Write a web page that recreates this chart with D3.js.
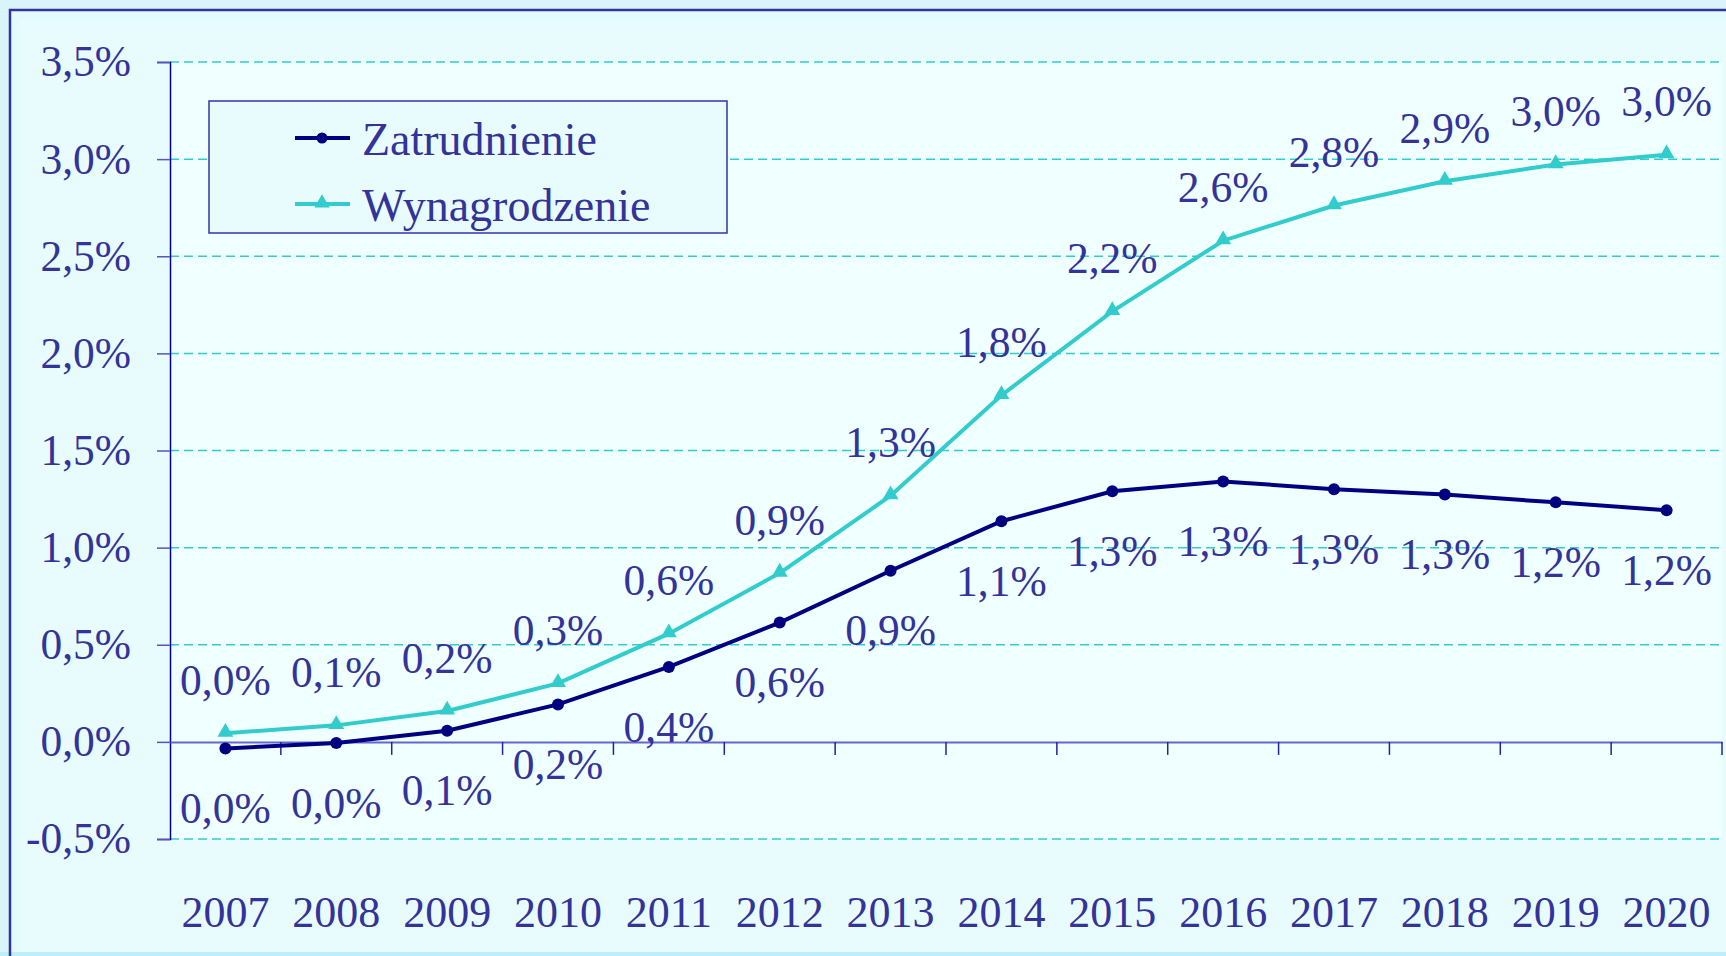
<!DOCTYPE html>
<html><head><meta charset="utf-8">
<script src="https://cdn.jsdelivr.net/npm/d3@7"></script>
<style>
html,body{margin:0;padding:0;background:#d9f4fa;}
svg{display:block;}
text{font-family:"Liberation Serif","Times New Roman",serif;fill:#333399;}
</style></head>
<body>
<svg id="chart" width="1726" height="956"></svg>
<script>
const years = ["2007","2008","2009","2010","2011","2012","2013","2014","2015","2016","2017","2018","2019","2020"];
const zatrudnienie = [-0.034,-0.006,0.057,0.193,0.386,0.614,0.881,1.136,1.290,1.341,1.301,1.273,1.233,1.193];
const wynagrodzenie = [0.045,0.085,0.159,0.301,0.557,0.869,1.267,1.784,2.216,2.580,2.761,2.886,2.972,3.023];
const yTicks = [-0.5,0,0.5,1.0,1.5,2.0,2.5,3.0,3.5];
const seriesNames = ["Zatrudnienie","Wynagrodzenie"];

(function(){
const svg = d3.select("#chart");
const W = 1726, H = 956;
const pLeft = 170, pRight = 1722, pTop = 62, pBottom = 839;

const fmt = v => d3.format(".1f")(Math.abs(v) < 0.05 ? 0 : v).replace("\u2212","-").replace(".", ",") + "%";

// frame
svg.append("rect").attr("x",10).attr("y",10).attr("width",W).attr("height",942).attr("fill","#e4fbfd");
svg.append("rect").attr("x",0).attr("y",952).attr("width",W).attr("height",4).attr("fill","#bfeef9");
svg.append("rect").attr("x",20).attr("y",20).attr("width",W).attr("height",932).attr("fill","#e8fcfd");
svg.append("path").attr("d","M10,956 V10 H1726").attr("fill","none").attr("stroke","#333399").attr("stroke-width",2.5);

const x = d3.scaleBand().domain(years).range([pLeft,pRight]);
const y = d3.scaleLinear().domain([-0.5,3.5]).range([pBottom,pTop]);

// plot area
svg.append("rect").attr("x",pLeft).attr("y",pTop).attr("width",pRight-pLeft).attr("height",pBottom-pTop).attr("fill","#f0ffff");

// gridlines
svg.append("g").selectAll("line").data(yTicks.filter(d=>d!==0)).join("line")
  .attr("x1",pLeft).attr("x2",pRight).attr("y1",d=>y(d)).attr("y2",d=>y(d))
  .attr("stroke","#33cccc").attr("stroke-width",1.5).attr("stroke-dasharray","9,5");

// y axis
const yAxis = d3.axisLeft(y).tickValues(yTicks).tickSize(13).tickPadding(26).tickFormat(d=>fmt(d));
const gy = svg.append("g").attr("transform",`translate(${pLeft},0)`).call(yAxis);
gy.select(".domain").attr("stroke","#000099").attr("stroke-width",1.5);
gy.selectAll(".tick line").attr("stroke","#5555bb").attr("stroke-width",1.5);
gy.selectAll(".tick text").attr("font-size",43.5).attr("fill","#333399").attr("font-family","Liberation Serif");

// x axis at 0
const xAxis = d3.axisBottom(x).tickSize(0).tickPadding(0).tickFormat(d=>d);
const gx = svg.append("g").attr("transform",`translate(0,${y(0)})`).call(xAxis);
gx.select(".domain").attr("stroke","#6666cc").attr("stroke-width",2);
gx.selectAll(".tick text").attr("font-size",44).attr("fill","#333399").attr("font-family","Liberation Serif")
  .attr("y", 185).attr("dy",0);
// category boundary ticks
svg.append("g").selectAll("line").data(years.slice(1).concat(["end"])).join("line")
  .attr("x1",d=>d==="end"?pRight:x(d)).attr("x2",d=>d==="end"?pRight:x(d))
  .attr("y1",y(0)).attr("y2",y(0)+13).attr("stroke","#2222aa").attr("stroke-width",1.5);

const cx = d => x(d) + x.bandwidth()/2;

// lines
const line = d3.line().x(d=>cx(d[0])).y(d=>y(d[1]));
svg.append("path").datum(years.map((yy,i)=>[yy,wynagrodzenie[i]])).attr("d",line)
  .attr("fill","none").attr("stroke","#33cccc").attr("stroke-width",4);
svg.append("path").datum(years.map((yy,i)=>[yy,zatrudnienie[i]])).attr("d",line)
  .attr("fill","none").attr("stroke","#000080").attr("stroke-width",4);

// markers
const tri = d3.symbol().type(d3.symbolTriangle).size(110);
svg.append("g").selectAll("path").data(years).join("path")
  .attr("d",tri).attr("transform",(d,i)=>`translate(${cx(d)},${y(wynagrodzenie[i])-1})`).attr("fill","#33cccc");
svg.append("g").selectAll("circle").data(years).join("circle")
  .attr("cx",d=>cx(d)).attr("cy",(d,i)=>y(zatrudnienie[i])).attr("r",6).attr("fill","#000080");

// data labels
svg.append("g").selectAll("text").data(years).join("text")
  .attr("x",d=>cx(d)).attr("y",(d,i)=>y(wynagrodzenie[i])-54).attr("dy","0.36em")
  .attr("text-anchor","middle").attr("font-size",43.5).text((d,i)=>fmt(wynagrodzenie[i]));
svg.append("g").selectAll("text").data(years).join("text")
  .attr("x",d=>cx(d)).attr("y",(d,i)=>y(zatrudnienie[i])+59).attr("dy","0.36em")
  .attr("text-anchor","middle").attr("font-size",43.5).text((d,i)=>fmt(zatrudnienie[i]));

// legend
const lg = svg.append("g");
lg.append("rect").attr("x",209).attr("y",101).attr("width",518).attr("height",132)
  .attr("fill","#e8fcfd").attr("stroke","#3333aa").attr("stroke-width",1.5);
const legendRows = [
  {name:seriesNames[0], color:"#000080", y:138, mark:"circle"},
  {name:seriesNames[1], color:"#33cccc", y:204, mark:"tri"}
];
legendRows.forEach(r=>{
  lg.append("line").attr("x1",295).attr("x2",350).attr("y1",r.y).attr("y2",r.y).attr("stroke",r.color).attr("stroke-width",4);
  if(r.mark==="circle") lg.append("circle").attr("cx",322).attr("cy",r.y).attr("r",5.5).attr("fill",r.color);
  else lg.append("path").attr("d",d3.symbol().type(d3.symbolTriangle).size(100)).attr("transform",`translate(322,${r.y-1})`).attr("fill",r.color);
  lg.append("text").attr("x",362).attr("y",r.y).attr("dy","0.36em").attr("font-size",46).text(r.name);
});
})();
</script>
</body></html>
